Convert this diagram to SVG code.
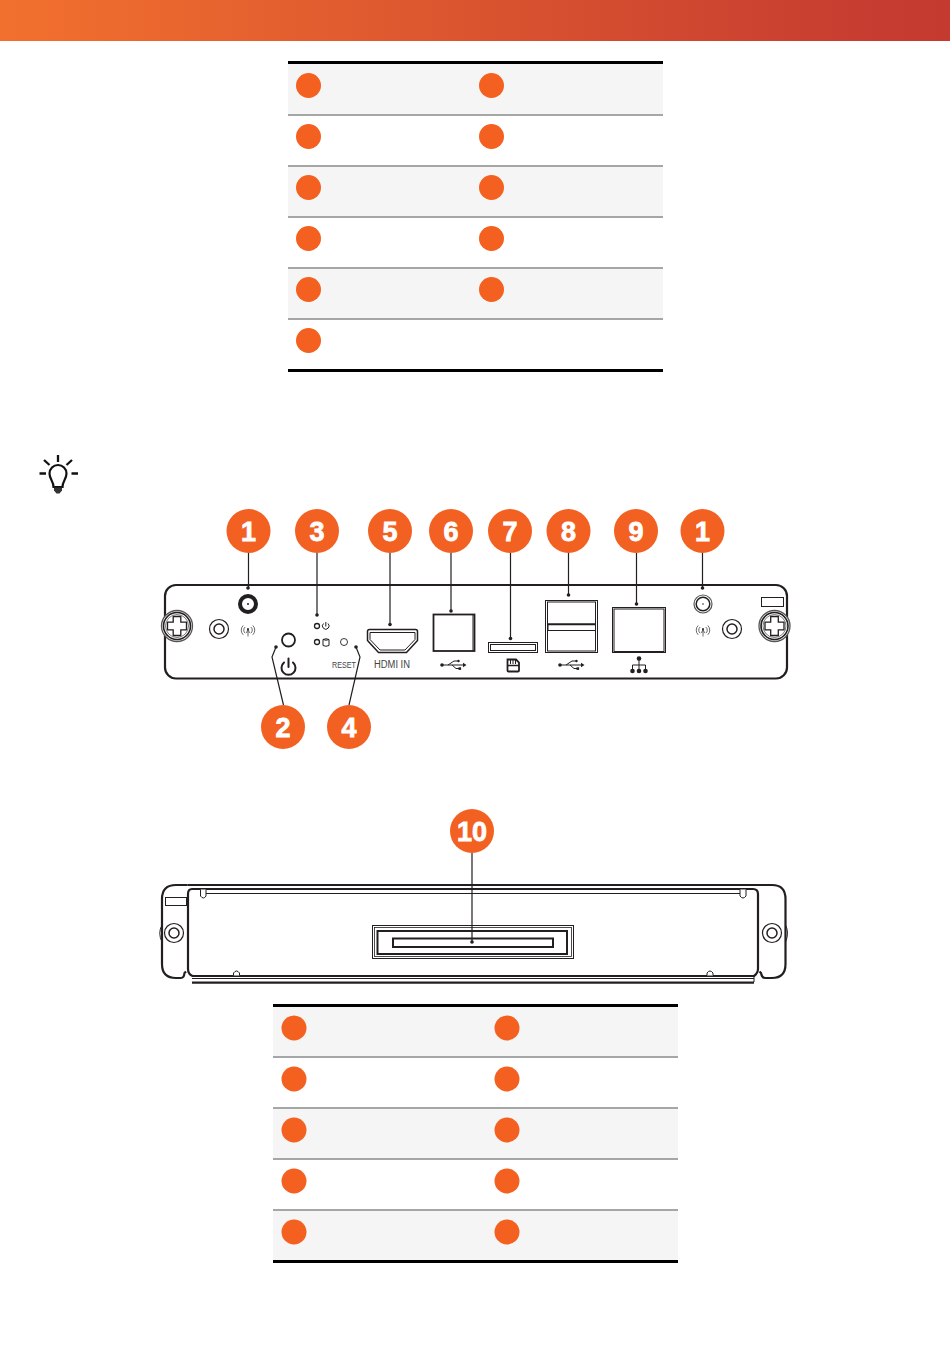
<svg xmlns="http://www.w3.org/2000/svg" xmlns:xlink="http://www.w3.org/1999/xlink" width="950" height="1348" viewBox="0 0 950 1348">
<style>
.row{fill:#f5f5f5}.rule{stroke:#a6a6a6;stroke-width:2;fill:none}.edge{stroke:#000;stroke-width:3;fill:none}
.dot{fill:#f4601f}.badge circle{fill:#f26122}.badge text{font:bold 27px "Liberation Sans",Arial,sans-serif;fill:#fff;stroke:#fff;stroke-width:0.8;text-anchor:middle}
.l{fill:none;stroke:#231f20;stroke-width:1.500;stroke-linejoin:round;stroke-linecap:round}.lt{fill:none;stroke:#231f20;stroke-width:1}.lh{fill:none;stroke:#231f20;stroke-width:2.200;stroke-linejoin:round}
.k{fill:#231f20}.lab{font-family:"Liberation Sans",Arial,sans-serif;fill:#444;text-anchor:middle}
.lead{fill:none;stroke:#231f20;stroke-width:1.200}
</style>
<defs>
<linearGradient id="hdr" x1="0" x2="1" y1="0" y2="0"><stop offset="0" stop-color="#f2702e"/><stop offset="0.92" stop-color="#c63c30"/><stop offset="1" stop-color="#c53a2f"/></linearGradient>
<g id="usb"><circle cx="-11" cy="0" r="1.800" class="k"/><path class="lt" d="M-11 0H12M-5 0L1-4H5M-1 0L3 3.500H6"/><path class="k" d="M10-2.200L13.500 0 10 2.200z"/><circle cx="5.500" cy="-4" r="1.200" class="k"/><rect x="5.500" y="2.300" width="2.600" height="2.600" class="k"/></g>
<g id="wifi"><path fill="none" stroke="#444" stroke-width="0.800" d="M0-1V6.500M-1.500 3L0-1 1.500 3M-2.800-3A4 4 0 0 0-2.800 3.200M2.800-3A4 4 0 0 1 2.800 3.200M-4.800-4.500A6.500 6.500 0 0 0-4.800 4.800M4.800-4.500A6.500 6.500 0 0 1 4.800 4.800"/><circle cx="0" cy="-1" r="0.900" class="k"/></g>
<g id="screw"><circle r="15.500" fill="#fff" stroke="#555" stroke-width="1.300"/><circle r="13.500" fill="none" stroke="#231f20" stroke-width="1.600"/><circle r="11.500" fill="none" stroke="#444" stroke-width="0.700"/><path d="M-3.800-9.500H3.800V-3.800H9.500V3.800H3.800V9.500H-3.800V3.800H-9.500V-3.800H-3.800Z" fill="#fff" stroke="#231f20" stroke-width="1.300"/></g>
<g id="ring"><circle r="9.500" fill="#fff" stroke="#231f20" stroke-width="1.200"/><circle r="5" fill="none" stroke="#231f20" stroke-width="1.500"/></g>
</defs>

<rect id="header" x="0" y="0" width="950" height="41" fill="url(#hdr)"/>

<g id="table-top">
<rect class="row" x="288" y="63" width="375" height="51"/><rect class="row" x="288" y="166" width="375" height="50"/><rect class="row" x="288" y="268" width="375" height="50"/>
<path class="rule" d="M288 115H663M288 166H663M288 217H663M288 268H663M288 319H663"/>
<path class="edge" d="M288 62.500H663M288 370.500H663"/>
<circle class="dot" cx="308.500" cy="85.500" r="12.500"/><circle class="dot" cx="491.500" cy="85.500" r="12.500"/>
<circle class="dot" cx="308.500" cy="136.500" r="12.500"/><circle class="dot" cx="491.500" cy="136.500" r="12.500"/>
<circle class="dot" cx="308.500" cy="187.500" r="12.500"/><circle class="dot" cx="491.500" cy="187.500" r="12.500"/>
<circle class="dot" cx="308.500" cy="238.500" r="12.500"/><circle class="dot" cx="491.500" cy="238.500" r="12.500"/>
<circle class="dot" cx="308.500" cy="289.500" r="12.500"/><circle class="dot" cx="491.500" cy="289.500" r="12.500"/>
<circle class="dot" cx="308.500" cy="340.500" r="12.500"/>
</g>

<g id="tip-icon">
<path d="M53.500 487C53.500 481 49.500 479 49.500 473.500A8.500 8.500 0 1 1 66.500 473.500C66.500 479 62.500 481 62.500 487Z" fill="none" stroke="#111" stroke-width="2.200"/>
<path d="M58 455V462M44 460L49.500 465M72 460L66.500 465M39.500 473.500H46M71.500 473.500H78" stroke="#111" stroke-width="2.300" fill="none"/>
<path d="M54 487.500H62V490.500L59.500 493.500H56.500L54 490.500Z" fill="#333"/>
</g>

<g id="front-panel">
<rect class="lh" x="165" y="585" width="622" height="93.500" rx="11"/>
<use xlink:href="#screw" x="177" y="626"/><use xlink:href="#screw" x="774.500" y="626"/>
<use xlink:href="#ring" x="219" y="629"/><use xlink:href="#ring" x="732" y="629"/>
<g id="antenna-left"><circle cx="248" cy="604" r="8" fill="#fff" stroke="#231f20" stroke-width="4"/><circle cx="248" cy="604" r="1" class="k"/></g>
<use xlink:href="#wifi" x="248" y="630"/>
<g id="antenna-right"><circle cx="703" cy="604" r="9" fill="#fff" stroke="#555" stroke-width="1.200"/><circle cx="703" cy="604" r="6.800" fill="none" stroke="#231f20" stroke-width="1.500"/><circle cx="703" cy="604" r="0.800" class="k"/></g>
<use xlink:href="#wifi" x="703" y="630"/>
<rect class="lt" x="761.500" y="597.500" width="22" height="9" stroke-width="1.200"/>
<g id="power"><circle cx="288.500" cy="640" r="6.500" fill="none" stroke="#231f20" stroke-width="1.800"/>
<path d="M284 662.500A7 7 0 1 0 293 662.500M288.500 658.500V667" fill="none" stroke="#231f20" stroke-width="2" stroke-linecap="round"/></g>
<g id="leds"><circle cx="317" cy="626" r="2.500" fill="#fff" stroke="#231f20" stroke-width="1.300"/><circle cx="317" cy="642" r="2.500" fill="#fff" stroke="#231f20" stroke-width="1.300"/>
<path class="lt" d="M323.500 623.500A3.300 3.300 0 1 0 328 623.500M325.800 622V626.500" stroke-width="0.800"/>
<path class="lt" d="M323 639.500Q326 638 329 639.500V645.500Q326 647 323 645.500ZM323 639.500Q326 641 329 639.500" stroke-width="0.800"/></g>
<circle cx="344" cy="642" r="3.500" fill="#fff" stroke="#231f20" stroke-width="0.900"/>
<text class="lab" x="344" y="668" font-size="9" textLength="24" lengthAdjust="spacingAndGlyphs">RESET</text>
<g id="hdmi"><path class="l" d="M367.500 631.500V640.500L378.500 652.500H406.500L417.500 640.500V631.500Q417.500 629.500 415.500 629.500H369.500Q367.500 629.500 367.500 631.500Z"/><path class="lt" d="M370 632.500V639.500L380 650H405L415 639.500V632.500Z" stroke-width="0.800"/></g>
<text class="lab" x="392" y="668" font-size="10" textLength="36" lengthAdjust="spacingAndGlyphs">HDMI IN</text>
<g id="usb-a"><rect x="433.500" y="614.500" width="41" height="36.500" fill="none" stroke="#231f20" stroke-width="1.800"/><path class="lt" d="M473 615V651" stroke-width="0.600"/></g>
<use xlink:href="#usb" x="453" y="665"/>
<g id="sd-slot"><rect x="488.500" y="642.500" width="49" height="10" fill="none" stroke="#231f20" stroke-width="1"/><rect x="490.500" y="644.500" width="45" height="6" fill="none" stroke="#231f20" stroke-width="1"/></g>
<path id="sd-icon" d="M507.500 659.500H516L519 662.500V670.500Q519 671.500 518 671.500H508.500Q507.500 671.500 507.500 670.500Z" fill="#fff" stroke="#231f20" stroke-width="1.800"/>
<path d="M508 665.500H519" stroke="#231f20" stroke-width="1.500"/><path d="M510.500 660V664M513 660V664M515.500 660V664" stroke="#231f20" stroke-width="1"/>
<g id="usb-dual"><rect x="545.500" y="600.500" width="52" height="52" fill="none" stroke="#231f20" stroke-width="1"/><rect x="547.500" y="602" width="48" height="49" fill="none" stroke="#231f20" stroke-width="1"/>
<rect x="548" y="624" width="47.500" height="6.500" fill="#fff" stroke="#231f20" stroke-width="1"/><path d="M548 624.300H595.500" stroke="#231f20" stroke-width="1.800"/></g>
<use xlink:href="#usb" x="571" y="665"/>
<g id="lan"><rect x="612.500" y="607.500" width="53" height="45" fill="none" stroke="#231f20" stroke-width="1"/><rect x="614" y="609" width="50" height="42.500" fill="none" stroke="#231f20" stroke-width="1"/></g>
<g id="lan-icon"><circle cx="639" cy="658.500" r="2.300" class="k"/><circle cx="632.500" cy="671" r="2.300" class="k"/><circle cx="639" cy="671" r="2.300" class="k"/><circle cx="645.500" cy="671" r="2.300" class="k"/><path class="lt" d="M639 660V669M632.500 669V665H645.500V669" stroke-width="0.900"/></g>
</g>

<g id="back-panel">
<path class="lh" d="M187.500 885H772Q785.500 885 785.500 899V964Q785.500 978 772 978H765Q762 978 761 973L759.500 971.500"/>
<path class="lh" d="M187.500 885H176Q162 885 162 899V964Q162 978 176 978H181Q184 978 184.500 973L186 971.500" stroke-width="1.800"/>
<path class="lh" d="M192 889H753Q758 889 758 894V969Q758 973 754 976H192.500Q188 974 188 969V894Q188 889 192 889Z" stroke-width="1.800"/>
<path class="lt" d="M204 893.500H743M239 975.500H708"/>
<path class="lt" d="M192 978.500H754"/>
<path d="M192 982.700H754" stroke="#231f20" stroke-width="2.200"/>
<path d="M754 976V982" stroke="#231f20" stroke-width="1"/>
<g fill="#fff" stroke="#231f20" stroke-width="1"><path d="M200.500 889.500V896Q203.500 900 206 896V889.500"/><path d="M740 889.500V896Q743 900 746 896V889.500"/><path d="M233.500 975.500V973Q236.500 969 239.500 973V975.500"/><path d="M707 975.500V973Q710 969 713 973V975.500"/></g>
<rect x="165.500" y="897.500" width="21" height="8" fill="none" stroke="#231f20" stroke-width="1"/>
<use xlink:href="#ring" x="174" y="933"/><use xlink:href="#ring" x="772" y="933"/>
<path d="M162 925Q157.500 933 162 942M785.500 925Q789.500 933 785.500 942" fill="none" stroke="#231f20" stroke-width="1"/>
<g id="connector"><rect x="372.500" y="925.500" width="201" height="33" fill="none" stroke="#231f20" stroke-width="1"/><rect x="374.500" y="927.500" width="197" height="29" fill="none" stroke="#231f20" stroke-width="0.800"/><rect x="377.500" y="931" width="189.500" height="23" fill="none" stroke="#231f20" stroke-width="2"/><rect x="393" y="938.500" width="160" height="8.500" fill="none" stroke="#231f20" stroke-width="2"/></g>
</g>

<g id="connectors">
<path class="lead" d="M248.500 553V588M317 553V615M390 553V624.500M451 553V611M510.500 553V638.500M568.500 553V595M636.500 553V604M702.500 553V588M276 647L272 657L283.500 705M356 647L360 657L349 705M472 853V942"/>
<g class="k"><circle cx="248" cy="588" r="1.800"/><circle cx="317" cy="615" r="1.800"/><circle cx="390" cy="624.500" r="1.800"/><circle cx="451" cy="611" r="1.800"/><circle cx="510.500" cy="638.500" r="1.800"/><circle cx="568.500" cy="595" r="1.800"/><circle cx="636.500" cy="604" r="1.800"/><circle cx="702.500" cy="588" r="1.800"/><circle cx="276" cy="647" r="1.800"/><circle cx="356" cy="647" r="1.800"/><circle cx="472" cy="942" r="1.800"/></g>
</g>

<g id="badge-1a" class="badge"><circle cx="248.500" cy="531" r="22"/><text x="248.500" y="540.500">1</text></g>
<g id="badge-3" class="badge"><circle cx="317" cy="531" r="22"/><text x="317" y="540.500">3</text></g>
<g id="badge-5" class="badge"><circle cx="390" cy="531" r="22"/><text x="390" y="540.500">5</text></g>
<g id="badge-6" class="badge"><circle cx="451" cy="531" r="22"/><text x="451" y="540.500">6</text></g>
<g id="badge-7" class="badge"><circle cx="510" cy="531" r="22"/><text x="510" y="540.500">7</text></g>
<g id="badge-8" class="badge"><circle cx="568.500" cy="531" r="22"/><text x="568.500" y="540.500">8</text></g>
<g id="badge-9" class="badge"><circle cx="636" cy="531" r="22"/><text x="636" y="540.500">9</text></g>
<g id="badge-1b" class="badge"><circle cx="702.500" cy="531" r="22"/><text x="702.500" y="540.500">1</text></g>
<g id="badge-2" class="badge"><circle cx="283" cy="727" r="22"/><text x="283" y="736.500">2</text></g>
<g id="badge-4" class="badge"><circle cx="349" cy="727" r="22"/><text x="349" y="736.500">4</text></g>
<g id="badge-10" class="badge"><circle cx="472" cy="831" r="22"/><text x="472" y="840.500">10</text></g>

<g id="table-bottom">
<rect class="row" x="273" y="1007" width="405" height="49"/><rect class="row" x="273" y="1109" width="405" height="49"/><rect class="row" x="273" y="1211" width="405" height="49"/>
<path class="rule" d="M273 1057H678M273 1108H678M273 1159H678M273 1210H678"/>
<path class="edge" d="M273 1005.500H678M273 1261.500H678"/>
<circle class="dot" cx="294" cy="1028" r="12.500"/><circle class="dot" cx="507" cy="1028" r="12.500"/>
<circle class="dot" cx="294" cy="1079" r="12.500"/><circle class="dot" cx="507" cy="1079" r="12.500"/>
<circle class="dot" cx="294" cy="1130" r="12.500"/><circle class="dot" cx="507" cy="1130" r="12.500"/>
<circle class="dot" cx="294" cy="1181" r="12.500"/><circle class="dot" cx="507" cy="1181" r="12.500"/>
<circle class="dot" cx="294" cy="1232" r="12.500"/><circle class="dot" cx="507" cy="1232" r="12.500"/>
</g>
</svg>
